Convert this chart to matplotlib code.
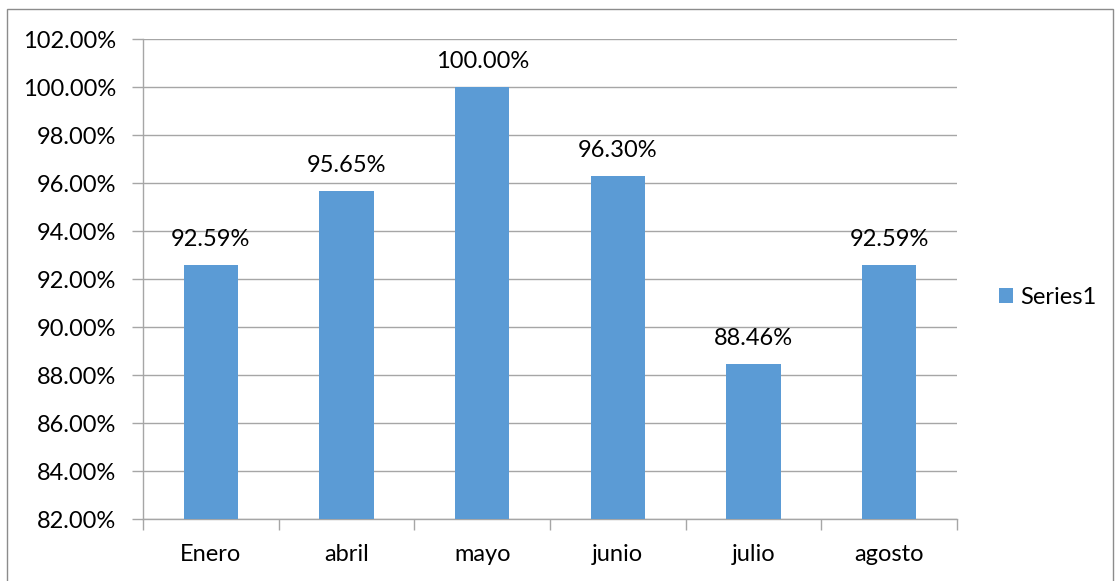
import matplotlib
matplotlib.use("Agg")
import matplotlib.pyplot as plt
from matplotlib.patches import Rectangle, Patch
from matplotlib.ticker import FuncFormatter, MultipleLocator

months = ["Enero", "abril", "mayo", "junio", "julio", "agosto"]
values = [92.59, 95.65, 100.00, 96.30, 88.46, 92.59]
series_name = "Series1"

bar_color = "#5B9BD5"
grid_color = "#A6A6A6"
font = ["Lato", "DejaVu Sans"]
plt.rcParams["font.family"] = font
fs = 17

fig = plt.figure(figsize=(11.15, 5.81), dpi=100)
ax = fig.add_axes([143 / 1115, 1 - 519 / 581, (957 - 143) / 1115, (519 - 39) / 581])

x = list(range(len(months)))
bars = ax.bar(x, values, width=0.4, color=bar_color, zorder=3)

ax.set_ylim(82, 102)
ax.set_xlim(-0.5, len(months) - 0.5)
ax.yaxis.set_major_locator(MultipleLocator(2))
ax.yaxis.set_major_formatter(FuncFormatter(lambda v, _: f"{v:.2f}%"))
ax.grid(axis="y", color=grid_color, linewidth=1, zorder=0)

for s in ["top", "right"]:
    ax.spines[s].set_visible(False)
for s in ["left", "bottom"]:
    ax.spines[s].set_color(grid_color)
    ax.spines[s].set_linewidth(1)

# category labels centered, tick marks at category boundaries
ax.set_xticks(x)
ax.set_xticklabels(months, fontsize=fs)
ax.tick_params(axis="x", length=0, pad=18)
ax.set_xticks([i - 0.5 for i in range(len(months) + 1)], minor=True)
ax.tick_params(axis="x", which="minor", length=8, color=grid_color, width=1)
ax.tick_params(axis="y", length=8, color=grid_color, width=1, labelsize=fs, pad=11)

for xi, v in zip(x, values):
    ax.annotate(f"{v:.2f}%", (xi, v), xytext=(0, 11), textcoords="offset points",
                ha="center", va="bottom", fontsize=fs)

handle = Patch(facecolor=bar_color, edgecolor="none")
fig.legend([handle], [series_name], loc="center left",
           bbox_to_anchor=(978 / 1115, 1 - 297 / 581), frameon=False,
           fontsize=fs, handlelength=0.6, handleheight=0.6, handletextpad=0.3)

fig.patches.append(Rectangle((7 / 1115, -0.01), (1113 - 7) / 1115, 1 - 9 / 581 + 0.01,
                             transform=fig.transFigure, fill=False,
                             edgecolor="#8C8C8C", linewidth=1))

fig.savefig("out.png", dpi=100)
